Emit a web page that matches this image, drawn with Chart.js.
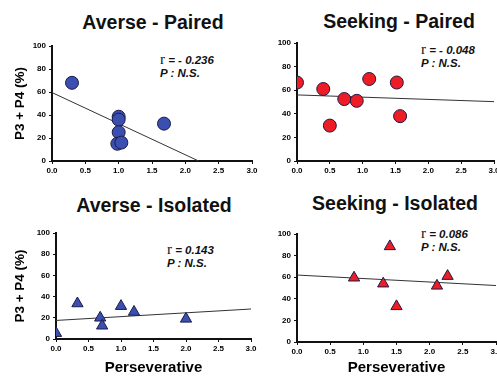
<!DOCTYPE html>
<html>
<head>
<meta charset="utf-8">
<script src="https://cdn.jsdelivr.net/npm/chart.js@4.4.1/dist/chart.umd.min.js"></script>
<style>
    html, body { margin: 0; padding: 0; background: #fff; overflow: hidden; }
    body { width: 497px; height: 377px; position: relative; font-family: Arial, "Liberation Sans", sans-serif; }
    .panel { position: absolute; }
    .titulo {
        position: absolute; transform: translate(-50%, -50%);
        font-weight: bold; font-size: 19.5px; color: #111; white-space: nowrap;
    }
    .stat {
        position: absolute; font-weight: bold; font-style: italic;
        font-size: 11.5px; line-height: 13px; color: #111; white-space: nowrap;
    }
    .stat .r { font-family: "Liberation Serif", "DejaVu Serif", serif; font-style: normal; font-weight: normal; font-size: 15px; }
</style>
</head>
<body>

<div class="titulo" style="left:153px; top:22px;">Averse - Paired</div>
<div class="titulo" style="left:399px; top:21px;">Seeking - Paired</div>
<div class="titulo" style="left:154px; top:205px;">Averse - Isolated</div>
<div class="titulo" style="left:395px; top:203px;">Seeking - Isolated</div>

<div class="stat" style="left:160px; top:53px;"><span class="r">r</span> = - 0.236<br>P : N.S.</div>
<div class="stat" style="left:421px; top:43px;"><span class="r">r</span> = - 0.048<br>P : N.S.</div>
<div class="stat" style="left:167px; top:243px;"><span class="r">r</span> = 0.143<br>P : N.S.</div>
<div class="stat" style="left:421px; top:227px;"><span class="r">r</span> = 0.086<br>P : N.S.</div>

<script>
(function () {
    'use strict';

    /* ── Datos: Averse - Paired ──────────────────────────── */
    var AP_X     = [0.3, 1.0, 1.0, 1.0, 0.98, 1.04, 1.68];
    var AP_Y     = [68, 38.5, 36, 25, 15, 16, 32.5];
    var AP_FIT_X = [0, 2.2];
    var AP_FIT_Y = [59.5, 0];

    /* ── Datos: Seeking - Paired ─────────────────────────── */
    var SP_X     = [0, 0.4, 0.5, 0.72, 0.91, 1.1, 1.52, 1.57];
    var SP_Y     = [66.5, 61, 30, 52.5, 51, 69.5, 66.5, 38];
    var SP_FIT_X = [0, 3];
    var SP_FIT_Y = [56, 50.3];

    /* ── Datos: Averse - Isolated ────────────────────────── */
    var AI_X     = [0, 0.33, 0.68, 0.71, 1.0, 1.2, 2.0];
    var AI_Y     = [5.5, 33.5, 20, 12.5, 31, 25.5, 19];
    var AI_FIT_X = [0, 3];
    var AI_FIT_Y = [17.5, 28.3];

    /* ── Datos: Seeking - Isolated ───────────────────────── */
    var SI_X     = [0.86, 1.3, 1.4, 1.5, 2.11, 2.27];
    var SI_Y     = [59.5, 54, 88.5, 33, 52, 61];
    var SI_FIT_X = [0, 3];
    var SI_FIT_Y = [62, 52.3];

    /* ── Ejes ────────────────────────────────────────────── */
    var X_MIN = 0, X_MAX = 3, X_STEP = 0.5;
    var Y_MIN = 0, Y_MAX = 100, Y_STEP = 20;
    var X_TITLE = 'Perseverative';
    var Y_TITLE = 'P3 + P4 (%)';

    /* ── Colores ─────────────────────────────────────────── */
    var BLUE   = '#3a4fb0';
    var RED    = '#ee1c24';
    var EDGE   = '#1b1b4a';
    var AXIS   = '#111111';
    var FITC   = '#333333';

    Chart.defaults.font.family = 'Arial, "Liberation Sans", sans-serif';
    Chart.defaults.color       = '#000';

    function pares(xs, ys) {
        return xs.map(function (x, i) { return { x: x, y: ys[i] }; });
    }

    /* box: caja del canvas en la página; area: área de datos dentro de la caja */
    function panel(cfg) {
        var div = document.createElement('div');
        div.className = 'panel';
        div.style.left = cfg.box[0] + 'px';
        div.style.top  = cfg.box[1] + 'px';
        var cv = document.createElement('canvas');
        cv.width  = cfg.box[2];
        cv.height = cfg.box[3];
        div.appendChild(cv);
        document.body.appendChild(div);

        var L = cfg.area[0], T = cfg.area[1], R = cfg.area[2], B = cfg.area[3];
        var W = cfg.box[2], H = cfg.box[3];

        return new Chart(cv, {
            type: 'scatter',
            data: {
                datasets: [
                    {
                        data:            pares(cfg.x, cfg.y),
                        pointStyle:      cfg.shape,
                        pointRadius:     6.5,
                        backgroundColor: cfg.color,
                        borderColor:     EDGE,
                        borderWidth:     1,
                        order:           1
                    },
                    {
                        type:        'line',
                        data:        pares(cfg.fitX, cfg.fitY),
                        borderColor: FITC,
                        borderWidth: 1,
                        pointRadius: 0,
                        fill:        false,
                        order:       2
                    }
                ]
            },
            options: {
                responsive: false,
                animation:  false,
                events:     [],
                layout: { padding: { left: 0, top: T, right: W - R, bottom: 0 } },
                plugins: { legend: { display: false }, tooltip: { enabled: false } },
                scales: {
                    x: {
                        type: 'linear', min: X_MIN, max: X_MAX,
                        border: { color: AXIS, width: 2 },
                        grid:   { drawOnChartArea: false, color: AXIS, tickLength: 3 },
                        ticks:  {
                            stepSize: X_STEP, padding: 2,
                            font: { size: 8, weight: 'bold' },
                            callback: function (v) { return v.toFixed(1); }
                        },
                        title: {
                            display: !!cfg.xTitle, text: X_TITLE,
                            font: { size: 15, weight: 'bold' },
                            padding: { top: 0, bottom: 0 }
                        },
                        afterFit: function (s) { s.height = H - B; }
                    },
                    y: {
                        type: 'linear', min: Y_MIN, max: Y_MAX,
                        border: { color: AXIS, width: 2 },
                        grid:   { drawOnChartArea: false, color: AXIS, tickLength: 3 },
                        ticks:  {
                            stepSize: Y_STEP, padding: 3,
                            font: { size: 8, weight: 'bold' }
                        },
                        title: {
                            display: !!cfg.yTitle, text: Y_TITLE,
                            font: { size: 13.5, weight: 'bold' },
                            padding: { top: 12, bottom: 0 }
                        },
                        afterFit: function (s) { s.width = L; }
                    }
                }
            }
        });
    }

    /* ── Arrancar ────────────────────────────────────────── */
    panel({ box: [0, 0, 264, 185],   area: [52, 46, 252, 161], x: AP_X, y: AP_Y,
            fitX: AP_FIT_X, fitY: AP_FIT_Y, shape: 'circle', color: BLUE, yTitle: true });
    panel({ box: [250, 0, 260, 185], area: [47, 43, 244, 161], x: SP_X, y: SP_Y,
            fitX: SP_FIT_X, fitY: SP_FIT_Y, shape: 'circle', color: RED });
    panel({ box: [0, 188, 264, 189], area: [56, 45, 251, 151], x: AI_X, y: AI_Y,
            fitX: AI_FIT_X, fitY: AI_FIT_Y, shape: 'triangle', color: BLUE, yTitle: true, xTitle: true });
    panel({ box: [250, 188, 260, 189], area: [47, 46, 246, 154], x: SI_X, y: SI_Y,
            fitX: SI_FIT_X, fitY: SI_FIT_Y, shape: 'triangle', color: RED, xTitle: true });
})();
</script>
</body>
</html>
